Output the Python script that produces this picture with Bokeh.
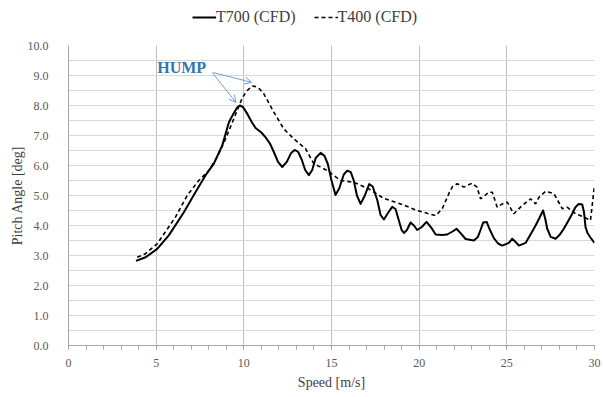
from bokeh.plotting import figure
from bokeh.layouts import column
from bokeh.models import (ColumnDataSource, SingleIntervalTicker, NumeralTickFormatter,
                          Legend, LegendItem, Label, Arrow, OpenHead, Range1d)
from bokeh.embed import file_html
from bokeh.resources import INLINE

# ---- data ----
t700_speed = [3.85, 4.4, 5.06, 5.72, 6.58, 7.24, 7.81, 8.29, 8.77, 9.15, 9.4, 9.6, 9.77, 9.95,
              10.2, 10.45, 10.67, 11.0, 11.24, 11.5, 11.71, 11.95, 12.19, 12.45, 12.7, 12.9,
              13.1, 13.3, 13.5, 13.71, 13.9, 14.1, 14.38, 14.6, 14.79, 15.0, 15.23, 15.45,
              15.7, 15.9, 16.1, 16.27, 16.45, 16.66, 16.9, 17.15, 17.35, 17.61, 17.8, 17.99,
              18.2, 18.46, 18.65, 18.8, 19.0, 19.13, 19.3, 19.51, 19.7, 19.89, 20.15, 20.42,
              20.7, 20.94, 21.3, 21.6, 21.9, 22.13, 22.4, 22.65, 23.12, 23.35, 23.5, 23.65,
              23.85, 24.0, 24.26, 24.5, 24.74, 25.12, 25.31, 25.5, 25.69, 26.07, 26.35, 26.64,
              26.9, 27.07, 27.2, 27.3, 27.5, 27.78, 28.0, 28.25, 28.5, 28.73, 28.9, 29.1, 29.3,
              29.4, 29.49, 29.6, 29.77, 30.0]
t700_pitch = [2.82, 2.94, 3.22, 3.67, 4.44, 5.11, 5.67, 6.06, 6.67, 7.44, 7.72, 7.92, 8.0, 7.95,
              7.72, 7.45, 7.25, 7.1, 6.94, 6.72, 6.45, 6.12, 5.95, 6.12, 6.42, 6.52,
              6.45, 6.2, 5.85, 5.68, 5.85, 6.25, 6.42, 6.32, 6.05, 5.5, 5.02, 5.25,
              5.7, 5.83, 5.78, 5.5, 5.0, 4.72, 5.0, 5.38, 5.3, 4.85, 4.35, 4.2,
              4.4, 4.62, 4.55, 4.25, 3.85, 3.75, 3.85, 4.1, 4.0, 3.85, 3.95, 4.12,
              3.92, 3.7, 3.68, 3.7, 3.8, 3.89, 3.72, 3.55, 3.5, 3.62, 3.85, 4.1,
              4.12, 3.9, 3.58, 3.4, 3.33, 3.42, 3.56, 3.45, 3.33, 3.42, 3.7, 4.0,
              4.3, 4.5, 4.2, 3.9, 3.62, 3.56, 3.68, 3.89, 4.15, 4.39, 4.6, 4.72, 4.7,
              4.45, 3.94, 3.75, 3.6, 3.42]

t400_speed = [3.92, 4.39, 5.06, 6.1, 6.77, 7.43, 8.0, 8.48, 8.96, 9.43, 9.7, 9.91, 10.19, 10.5,
              10.67, 10.9, 11.14, 11.71, 12.28, 12.85, 13.52, 13.99, 14.76, 15.52, 16.27, 17.13,
              17.99, 18.94, 19.89, 20.5, 20.94, 21.32, 21.69, 21.9, 22.17, 22.55, 23.02, 23.3,
              23.5, 23.75, 23.98, 24.17, 24.45, 24.74, 25.02, 25.4, 25.88, 26.36, 26.64, 26.83,
              27.21, 27.69, 28.16, 28.44, 28.92, 29.4, 29.77, 29.92, 30.0]
t400_pitch = [2.94, 3.06, 3.39, 4.28, 5.0, 5.5, 5.83, 6.28, 6.89, 7.56, 7.95, 8.25, 8.5, 8.65,
              8.63, 8.55, 8.39, 7.78, 7.22, 6.89, 6.56, 6.06, 5.83, 5.5, 5.44, 5.22,
              4.9, 4.72, 4.5, 4.4, 4.33, 4.56, 5.06, 5.3, 5.39, 5.28, 5.41, 5.28,
              4.89, 5.0, 5.11, 5.11, 4.61, 4.72, 4.78, 4.39, 4.67, 4.89, 4.72, 4.94,
              5.14, 5.06, 4.56, 4.61, 4.39, 4.28, 4.17, 4.94, 5.33]

series_names = ["T700 (CFD)", "T400 (CFD)"]
x_label = "Speed [m/s]"
y_label = "Pitch Angle [deg]"
annotation_text = "HUMP"

FONT = "Liberation Serif"
TICK_COLOR = "#595959"
SOLID = dict(line_color="black", line_width=2, line_join="round")
DASHED = dict(line_color="black", line_width=1.6, line_dash="4 3")

p = figure(width=603, height=360, output_backend="svg", toolbar_location=None,
           x_range=Range1d(0, 30), y_range=Range1d(0, 10),
           min_border_left=68, min_border_right=9, min_border_top=8, min_border_bottom=52)
p.outline_line_color = None
p.background_fill_color = "white"
p.border_fill_color = "white"

src700 = ColumnDataSource(dict(x=t700_speed, y=t700_pitch))
src400 = ColumnDataSource(dict(x=t400_speed, y=t400_pitch))
r700 = p.line("x", "y", source=src700, **SOLID)
r400 = p.line("x", "y", source=src400, **DASHED)

# axes
p.xaxis.ticker = SingleIntervalTicker(interval=5, num_minor_ticks=5)
p.yaxis.ticker = SingleIntervalTicker(interval=1, num_minor_ticks=2)
p.yaxis.formatter = NumeralTickFormatter(format="0.0")
for ax in (p.xaxis, p.yaxis):
    ax.axis_line_color = "#A6A6A6"
    ax.major_tick_line_color = "#A6A6A6"
    ax.minor_tick_line_color = "#A6A6A6"
    ax.major_label_text_font = FONT
    ax.major_label_text_font_size = "12px"
    ax.major_label_text_color = TICK_COLOR
    ax.axis_label_text_font = FONT
    ax.axis_label_text_font_size = "14px"
    ax.axis_label_text_font_style = "normal"
    ax.axis_label_text_color = "#404040"
p.xaxis.major_tick_in = 0
p.xaxis.major_tick_out = 4
p.xaxis.minor_tick_in = 0
p.xaxis.minor_tick_out = 4
p.xaxis.major_label_standoff = 9
p.xaxis.axis_label = x_label
p.xaxis.axis_label_standoff = 5
p.yaxis.major_tick_in = 0
p.yaxis.major_tick_out = 0
p.yaxis.minor_tick_in = 0
p.yaxis.minor_tick_out = 0
p.yaxis.major_label_standoff = 20
p.yaxis.axis_label = y_label
p.yaxis.axis_label_standoff = 0

# grids
p.xgrid.grid_line_color = "#BFBFBF"
p.xgrid.grid_line_width = 1
p.ygrid.grid_line_color = "#D9D9D9"
p.ygrid.minor_grid_line_color = "#D9D9D9"
p.ygrid.grid_line_width = 1

# annotation
solid_peak_i = max(range(len(t700_pitch)), key=lambda i: t700_pitch[i])
dash_peak_i = max(range(len(t400_pitch)), key=lambda i: t400_pitch[i])
label_x, label_y = 5.06, 8.98
arrow_start = (8.2, 9.1)
p.add_layout(Label(x=label_x, y=label_y, text=annotation_text, text_font=FONT,
                   text_font_style="bold", text_font_size="16px", text_color="#2E75B6"))
ANN_COLOR = "#6FA0D8"
p.add_layout(Arrow(x_start=arrow_start[0], y_start=arrow_start[1],
                   x_end=t700_speed[solid_peak_i] - 0.22, y_end=t700_pitch[solid_peak_i] + 0.1,
                   line_color=ANN_COLOR, line_width=1,
                   end=OpenHead(size=7, line_color=ANN_COLOR, line_width=1)))
p.add_layout(Arrow(x_start=arrow_start[0] + 0.05, y_start=arrow_start[1],
                   x_end=t400_speed[dash_peak_i] - 0.05, y_end=t400_pitch[dash_peak_i] + 0.12,
                   line_color=ANN_COLOR, line_width=1,
                   end=OpenHead(size=7, line_color=ANN_COLOR, line_width=1)))

# legend strip above the chart (separate small figure, same styles; the series
# lie outside its 0..1 ranges so only the legend shows)
lf = figure(width=603, height=37, output_backend="svg", toolbar_location=None,
            x_range=Range1d(0, 1), y_range=Range1d(0, 1),
            min_border=0, min_border_left=0, min_border_right=0,
            min_border_top=0, min_border_bottom=0)
lf.axis.visible = False
lf.grid.visible = False
lf.outline_line_color = None
lf.border_fill_color = "white"
lf.background_fill_color = "white"
l700 = lf.line("x", "y", source=src700, **SOLID)
l400 = lf.line("x", "y", source=src400, **DASHED)
legend = Legend(items=[LegendItem(label=series_names[0], renderers=[l700]),
                       LegendItem(label=series_names[1], renderers=[l400])],
                orientation="horizontal", location=(124, 11),
                label_text_font=FONT, label_text_font_size="16px", label_text_color="#404040",
                glyph_width=24, glyph_height=16, label_standoff=0, spacing=18,
                padding=0, margin=0, border_line_color=None, background_fill_alpha=0)
lf.add_layout(legend, "center")

layout = column(lf, p, spacing=0)
open("out.html", "w").write(file_html(layout, INLINE))
